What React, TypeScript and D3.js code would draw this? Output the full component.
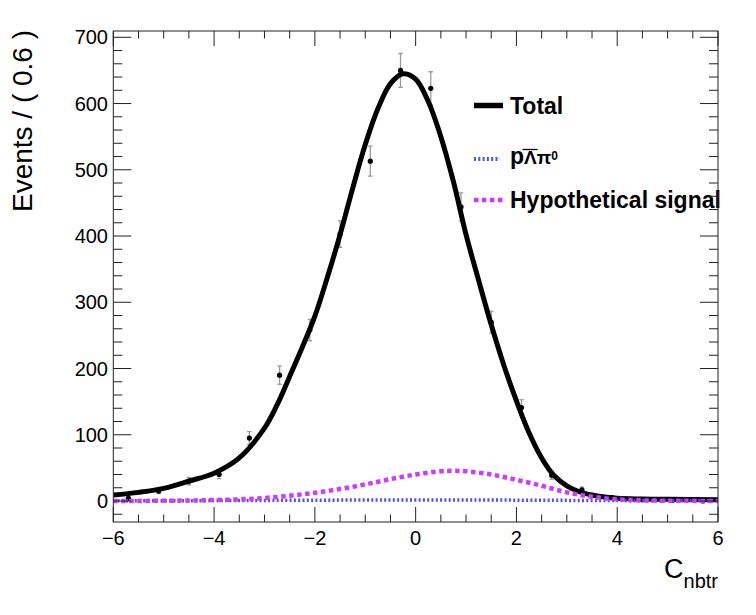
import React from "react";
import * as d3 from "d3";

// Binned data: bin centres, counts and errors
const binCenters = [-5.7, -5.1, -4.5, -3.9, -3.3, -2.7, -2.1, -1.5, -0.9, -0.3, 0.3, 0.9, 1.5, 2.1, 2.7, 3.3, 3.9, 4.5, 5.1, 5.7];
const counts = [4, 15, 30, 40, 95, 190, 258, 403, 513, 650, 623, 444, 270, 141, 39, 17, 5, 2, 1, 0];
const errors = [2, 3.9, 5.5, 6.3, 9.7, 13.8, 16, 20, 22.6, 25.5, 25, 21, 16.4, 11.9, 6.2, 4.1, 2.2, 1.4, 1, 0];

// Fit curves
const totalX = [-6, -5.5, -5, -4.5, -4, -3.5, -3, -2.75, -2.5, -2.25, -2, -1.75, -1.5, -1.25, -1, -0.75, -0.5, -0.25, 0, 0.25, 0.5, 0.75, 1, 1.25, 1.5, 1.75, 2, 2.25, 2.5, 2.75, 3, 3.25, 3.5, 3.75, 4, 4.5, 5, 6];
const totalY = [9, 13, 19, 30, 42, 65, 110, 145, 188, 232, 279, 338, 402, 472, 538, 592, 630, 645, 637, 603, 550, 482, 402, 333, 266, 205, 151, 103, 65, 38, 23, 14, 9, 6, 4, 3, 2.5, 2];

const signalX = [-6, -5, -4.5, -4, -3.5, -3, -2.5, -2, -1.5, -1, -0.5, 0, 0.5, 0.75, 1, 1.5, 2, 2.5, 3, 3.5, 4, 4.5, 5, 6];
const signalY = [0.1, 0.3, 0.8, 1.5, 2.5, 4.5, 8, 12.5, 18, 25, 33, 40, 45, 45.5, 45, 40, 32, 23, 13, 6.5, 2.5, 1, 0.4, 0.1];

const bkgX = [-6, -4, -2, 0, 2, 4, 6];
const bkgY = [0.3, 0.6, 1.2, 1.6, 1.3, 0.6, 0.3];

const xTicks = [-6, -4, -2, 0, 2, 4, 6];
const yTicks = [0, 100, 200, 300, 400, 500, 600, 700];

const W = 756;
const H = 615;
const frame = { left: 113.3, right: 718, top: 31, bottom: 522 };
const font = "'Liberation Sans', Arial, Helvetica, sans-serif";
const sigColor = "#cc3dfa";
const bkgColor = "#4f4ff5";

export default function App() {
  const x = d3.scaleLinear().domain([-6, 6]).range([frame.left, frame.right]);
  const y = d3.scaleLinear().domain([-31.7, 709.5]).range([frame.bottom, frame.top]);

  const line = d3
    .line<[number, number]>()
    .x((d) => x(d[0]))
    .y((d) => y(d[1]))
    .curve(d3.curveCatmullRom.alpha(0.5));

  const totalPath = line(totalX.map((v, i) => [v, totalY[i]]) as [number, number][]) || "";
  const signalPath = line(signalX.map((v, i) => [v, signalY[i]]) as [number, number][]) || "";
  const bkgPath = line(bkgX.map((v, i) => [v, bkgY[i]]) as [number, number][]) || "";

  const xMinor = d3.range(-6, 6.001, 0.5).filter((v) => Math.abs(v % 2) > 0.01);
  const yMinor = d3.range(-20, 701, 20).filter((v) => v % 100 !== 0);

  const legX = 474;
  const legLen = 29;
  const legTextX = 510;

  return (
    <div style={{ position: "absolute", left: 0, top: 0 }}>
      <svg width={W} height={H} style={{ display: "block", background: "#fff" }} fontFamily={font}>
        <defs>
          <clipPath id="frameClip">
            <rect x={frame.left} y={frame.top} width={frame.right - frame.left} height={frame.bottom - frame.top} />
          </clipPath>
        </defs>

        <g clipPath="url(#frameClip)">
          {/* error bars */}
          {binCenters.map((c, i) =>
            errors[i] > 0 ? (
              <g key={"e" + i} stroke="#9a9a9a" strokeWidth={1.3}>
                <line x1={x(c)} x2={x(c)} y1={y(counts[i] - errors[i])} y2={y(counts[i] + errors[i])} />
                <line x1={x(c) - 2.2} x2={x(c) + 2.2} y1={y(counts[i] - errors[i])} y2={y(counts[i] - errors[i])} />
                <line x1={x(c) - 2.2} x2={x(c) + 2.2} y1={y(counts[i] + errors[i])} y2={y(counts[i] + errors[i])} />
              </g>
            ) : null
          )}
          {binCenters.map((c, i) => (
            <circle key={"p" + i} cx={x(c)} cy={y(counts[i])} r={2.6} fill="#000" />
          ))}

          <path d={totalPath} fill="none" stroke="#000" strokeWidth={5} />
          <path d={bkgPath} fill="none" stroke={bkgColor} strokeWidth={3.5} strokeDasharray="2,2.3" />
          <path d={signalPath} fill="none" stroke={sigColor} strokeWidth={4.5} strokeDasharray="4.5,3.5" />
        </g>

        {/* legend */}
        <line x1={legX} x2={legX + legLen} y1={105.5} y2={105.5} stroke="#000" strokeWidth={5.5} />
        <text x={legTextX} y={113.5} fontSize={23} fontWeight="bold">Total</text>

        <line x1={legX} x2={legX + 26} y1={159} y2={159} stroke={bkgColor} strokeWidth={4} strokeDasharray="2,2.3" />
        <text x={legTextX} y={163.5} fontWeight="bold">
          <tspan fontSize={23}>p</tspan>
          <tspan fontSize={19}>Λπ</tspan>
          <tspan fontSize={12} dy={-4}>0</tspan>
        </text>
        <line x1={legTextX + 12.5} x2={legTextX + 27.5} y1={149.5} y2={149.5} stroke="#000" strokeWidth={1.3} />

        <line x1={legX} x2={legX + legLen} y1={200} y2={200} stroke={sigColor} strokeWidth={4.5} strokeDasharray="4.5,3.5" />
        <text x={legTextX} y={208.3} fontSize={23} fontWeight="bold">Hypothetical signal</text>

        {/* frame */}
        <rect
          x={frame.left}
          y={frame.top}
          width={frame.right - frame.left}
          height={frame.bottom - frame.top}
          fill="none"
          stroke="#222"
          strokeWidth={1}
        />

        {/* x ticks, bottom and top */}
        <g stroke="#222" strokeWidth={1}>
          {xTicks.map((t) => (
            <g key={"xt" + t}>
              <line x1={x(t)} x2={x(t)} y1={frame.bottom} y2={frame.bottom - 15} />
              <line x1={x(t)} x2={x(t)} y1={frame.top} y2={frame.top + 15} />
            </g>
          ))}
          {xMinor.map((t) => (
            <g key={"xm" + t}>
              <line x1={x(t)} x2={x(t)} y1={frame.bottom} y2={frame.bottom - 7.5} />
              <line x1={x(t)} x2={x(t)} y1={frame.top} y2={frame.top + 7.5} />
            </g>
          ))}
          {yTicks.map((t) => (
            <g key={"yt" + t}>
              <line x1={frame.left} x2={frame.left + 18} y1={y(t)} y2={y(t)} />
              <line x1={frame.right} x2={frame.right - 18} y1={y(t)} y2={y(t)} />
            </g>
          ))}
          {yMinor.map((t) => (
            <g key={"ym" + t}>
              <line x1={frame.left} x2={frame.left + 9} y1={y(t)} y2={y(t)} />
              <line x1={frame.right} x2={frame.right - 9} y1={y(t)} y2={y(t)} />
            </g>
          ))}
        </g>

        {/* tick labels */}
        {xTicks.map((t) => (
          <text key={"xl" + t} x={x(t)} y={545} fontSize={20} textAnchor="middle">
            {t < 0 ? "\u2212" + Math.abs(t) : String(t)}
          </text>
        ))}
        {yTicks.map((t) => (
          <text key={"yl" + t} x={108} y={y(t) + 7.2} fontSize={20} textAnchor="end">
            {t}
          </text>
        ))}

        {/* axis titles */}
        <text x={718} y={578} fontSize={27} textAnchor="end">
          C<tspan fontSize={20} dy={9.5}>nbtr</tspan>
        </text>
        <text transform="translate(32,121) rotate(-90)" fontSize={28} textAnchor="middle">
          Events / ( 0.6 )
        </text>
      </svg>
    </div>
  );
}
